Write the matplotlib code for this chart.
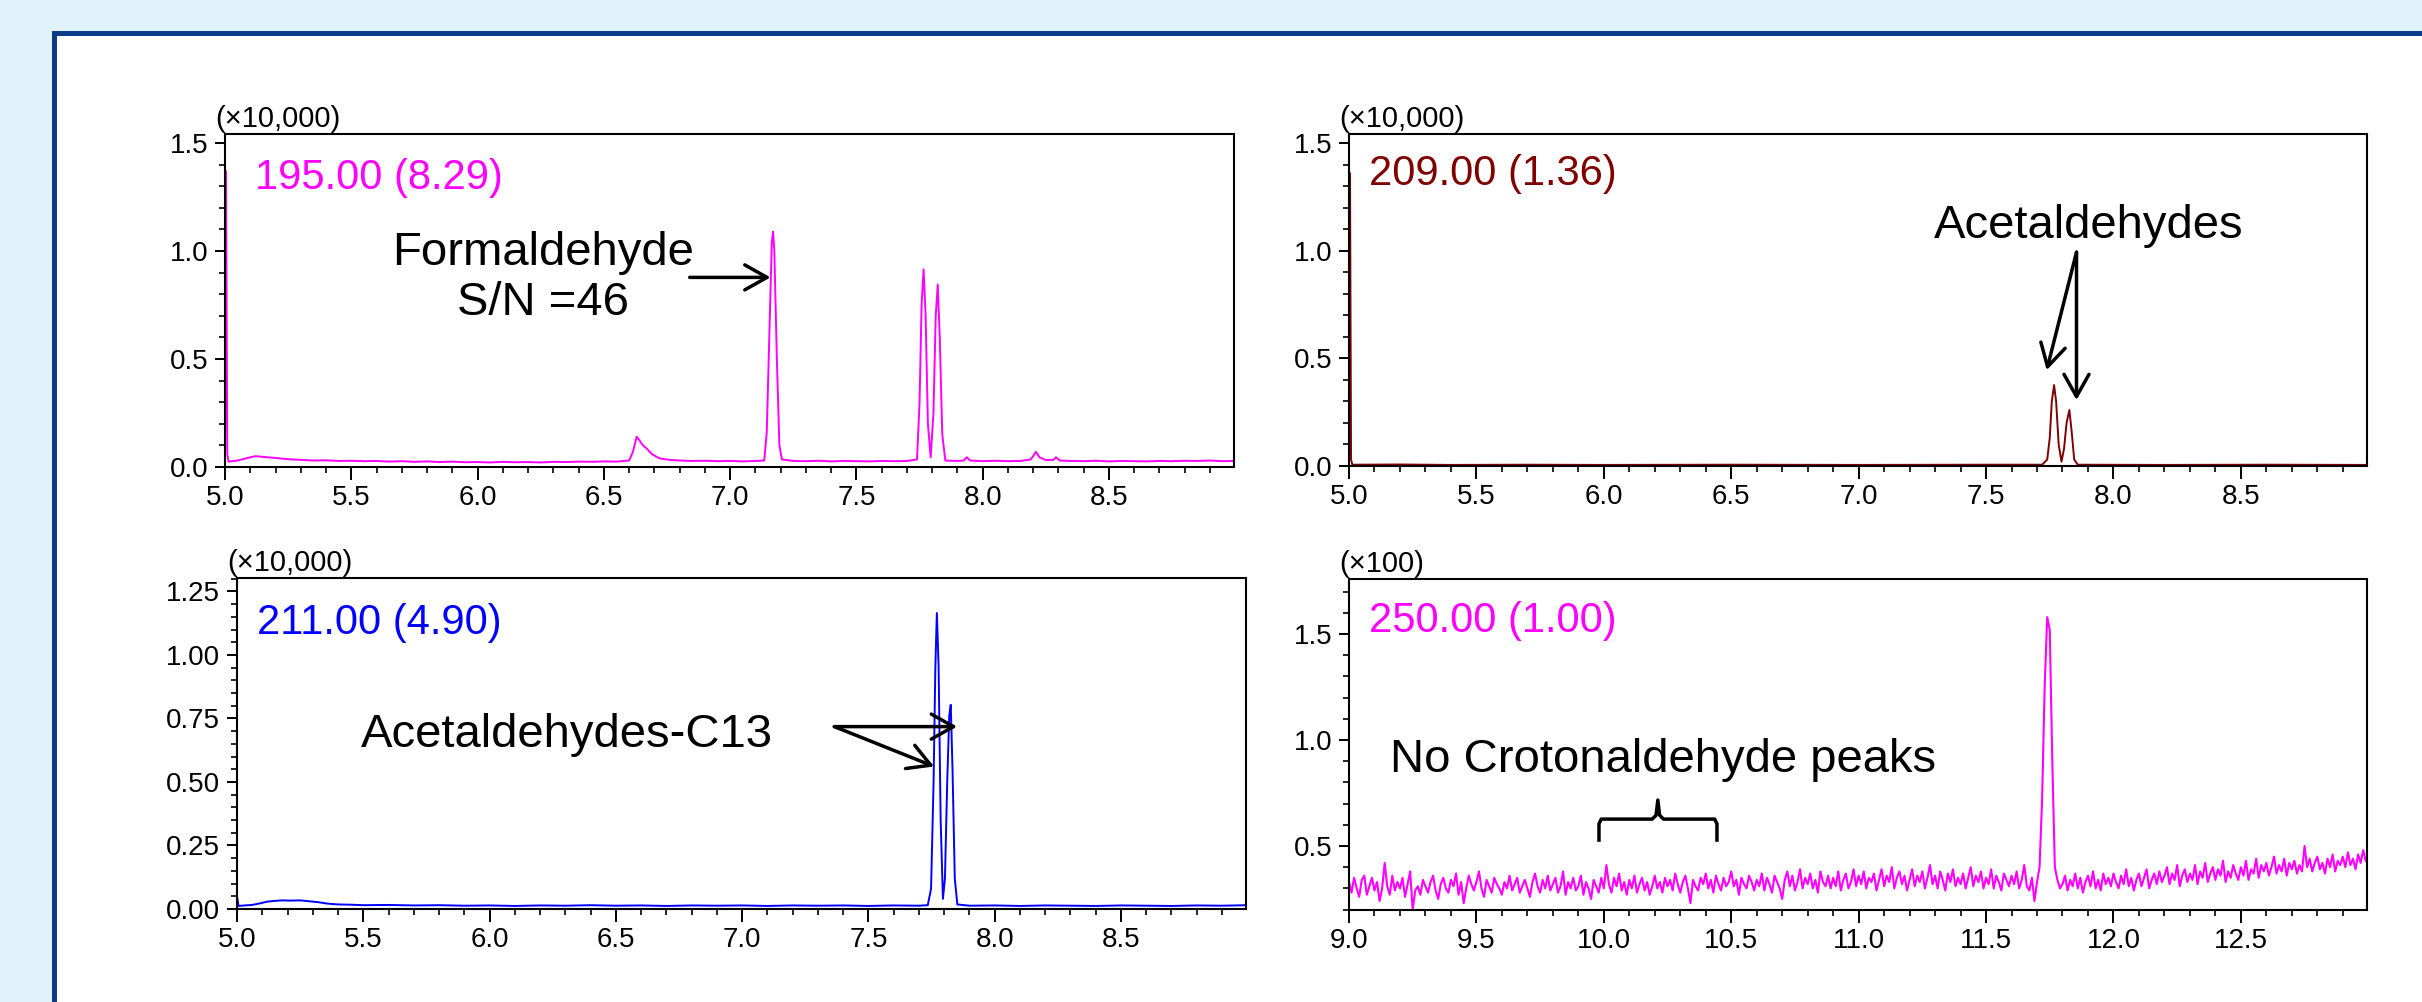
import matplotlib.pyplot as plt
import numpy as np
from matplotlib.patches import Rectangle
from matplotlib.ticker import FixedLocator, FormatStrFormatter

plt.rcParams["font.family"] = ["Liberation Sans", "DejaVu Sans"]

W, H = 2422, 1002

# m/z 195.00 trace, intensity (x10,000)
t195 = [5.0, 5.004, 5.009, 5.014, 5.05, 5.09, 5.12, 5.15, 5.2, 5.25, 5.3, 5.35, 5.4, 5.45, 5.5,
        5.55, 5.6, 5.65, 5.7, 5.75, 5.8, 5.85, 5.9, 5.95, 6.0, 6.05, 6.1, 6.15, 6.2, 6.25,
        6.3, 6.35, 6.4, 6.45, 6.5, 6.55, 6.6, 6.615, 6.63, 6.64, 6.655, 6.67, 6.69, 6.72,
        6.76, 6.8, 6.85, 6.9, 6.95, 7.0, 7.05, 7.1, 7.135, 7.145, 7.155, 7.165, 7.17, 7.175,
        7.185, 7.195, 7.205, 7.25, 7.3, 7.35, 7.4, 7.45, 7.5, 7.55, 7.6, 7.65, 7.7, 7.74,
        7.75, 7.758, 7.766, 7.774, 7.783, 7.794, 7.805, 7.814, 7.822, 7.83, 7.84, 7.852,
        7.9, 7.925, 7.937, 7.95, 8.0, 8.05, 8.1, 8.15, 8.19, 8.2, 8.21, 8.225, 8.25, 8.28,
        8.29, 8.305, 8.35, 8.4, 8.45, 8.5, 8.55, 8.6, 8.65, 8.7, 8.75, 8.8, 8.85, 8.9,
        8.95, 9.0]
i195 = [0.05, 1.37, 0.06, 0.025, 0.03, 0.042, 0.05, 0.047, 0.042, 0.036, 0.033, 0.03, 0.031,
        0.028, 0.029, 0.027, 0.028, 0.025, 0.027, 0.024, 0.026, 0.023, 0.025, 0.022, 0.023,
        0.021, 0.024, 0.022, 0.023, 0.021, 0.024, 0.023, 0.025, 0.024, 0.026, 0.025, 0.03,
        0.07, 0.14, 0.125, 0.1, 0.085, 0.06, 0.04, 0.033, 0.03, 0.028, 0.029, 0.027, 0.028,
        0.026, 0.028, 0.03, 0.16, 0.6, 1.04, 1.09, 1.0, 0.5, 0.1, 0.035, 0.028, 0.027, 0.029,
        0.026, 0.028, 0.027, 0.026, 0.028, 0.027, 0.028, 0.035, 0.3, 0.75, 0.915, 0.7, 0.2,
        0.045, 0.25, 0.7, 0.845, 0.6, 0.15, 0.03, 0.028, 0.03, 0.045, 0.03, 0.027, 0.029,
        0.027, 0.028, 0.035, 0.05, 0.07, 0.045, 0.032, 0.033, 0.045, 0.03, 0.028, 0.027,
        0.029, 0.026, 0.028, 0.027, 0.026, 0.028, 0.027, 0.029, 0.028, 0.03, 0.027, 0.028]

# m/z 209.00 trace, intensity (x10,000)
t209 = [5.0, 5.004, 5.008, 5.013, 5.2, 5.4, 5.7, 6.0, 6.5, 7.0, 7.5, 7.72, 7.74, 7.75, 7.758,
        7.767, 7.775, 7.785, 7.796, 7.806, 7.816, 7.827, 7.836, 7.846, 7.86, 8.2, 8.6, 9.0]
i209 = [0.02, 1.36, 0.03, 0.006, 0.007, 0.005, 0.006, 0.005, 0.006, 0.005, 0.006, 0.006, 0.03,
        0.13, 0.3, 0.376, 0.3, 0.1, 0.02, 0.08, 0.2, 0.26, 0.16, 0.03, 0.006, 0.005, 0.006,
        0.005]

# m/z 211.00 trace, intensity (x10,000)
t211 = [5.0, 5.006, 5.03, 5.06, 5.09, 5.12, 5.15, 5.18, 5.21, 5.25, 5.28, 5.32, 5.36, 5.4,
        5.45, 5.5, 5.6, 5.7, 5.8, 5.9, 6.0, 6.1, 6.2, 6.3, 6.4, 6.5, 6.6, 6.7, 6.8, 6.9,
        7.0, 7.1, 7.2, 7.3, 7.4, 7.5, 7.6, 7.7, 7.735, 7.748, 7.758, 7.765, 7.771, 7.778,
        7.786, 7.795, 7.803, 7.812, 7.82, 7.826, 7.833, 7.842, 7.852, 7.9, 8.0, 8.1, 8.2,
        8.3, 8.4, 8.5, 8.6, 8.7, 8.8, 8.9, 9.0]
i211 = [0.05, 0.012, 0.014, 0.016, 0.022, 0.029, 0.032, 0.034, 0.033, 0.034, 0.031, 0.027,
        0.021, 0.018, 0.017, 0.015, 0.016, 0.014, 0.015, 0.013, 0.014, 0.012, 0.014, 0.013,
        0.015, 0.013, 0.014, 0.012, 0.014, 0.013, 0.014, 0.012, 0.014, 0.013, 0.014, 0.012,
        0.014, 0.013, 0.015, 0.08, 0.5, 0.95, 1.165, 0.95, 0.35, 0.04, 0.12, 0.5, 0.76,
        0.804, 0.55, 0.12, 0.018, 0.013, 0.014, 0.012, 0.014, 0.013, 0.012, 0.014, 0.013,
        0.012, 0.014, 0.013, 0.015]

# m/z 250.00 trace, intensity (x100), one reading every 0.01 min from 9.00 to 13.00
i250 = [
    0.33, 0.28, 0.35, 0.30, 0.26, 0.34, 0.36, 0.27, 0.31, 0.35,
    0.29, 0.33, 0.24, 0.30, 0.42, 0.31, 0.27, 0.36, 0.29, 0.33,
    0.30, 0.35, 0.26, 0.32, 0.38, 0.20, 0.29, 0.31, 0.27, 0.34,
    0.31, 0.28, 0.33, 0.36, 0.29, 0.25, 0.32, 0.35, 0.30, 0.28,
    0.34, 0.31, 0.37, 0.27, 0.33, 0.23, 0.30, 0.36, 0.32, 0.29,
    0.33, 0.38, 0.30, 0.26, 0.34, 0.31, 0.28, 0.35, 0.32, 0.30,
    0.27, 0.33, 0.30, 0.36, 0.29, 0.32, 0.35, 0.28, 0.31, 0.34,
    0.30, 0.26, 0.33, 0.37, 0.31, 0.28, 0.34, 0.30, 0.36, 0.29,
    0.32, 0.35, 0.28, 0.31, 0.38, 0.27, 0.33, 0.30, 0.35, 0.29,
    0.31, 0.36, 0.27, 0.33, 0.30, 0.25, 0.34, 0.31, 0.28, 0.35,
    0.30, 0.41, 0.32, 0.28, 0.35, 0.31, 0.37, 0.29, 0.33, 0.27,
    0.34, 0.30, 0.36, 0.28, 0.32, 0.35, 0.29, 0.33, 0.27, 0.31,
    0.36, 0.30, 0.33, 0.28, 0.35, 0.31, 0.34, 0.29, 0.37, 0.32,
    0.28, 0.33, 0.36, 0.30, 0.23, 0.34, 0.31, 0.29, 0.35, 0.32,
    0.37, 0.30, 0.34, 0.28, 0.36, 0.32, 0.29, 0.35, 0.31, 0.33,
    0.38, 0.31, 0.34, 0.27, 0.35, 0.32, 0.30, 0.36, 0.33, 0.29,
    0.34, 0.31, 0.37, 0.29, 0.35, 0.32, 0.28, 0.36, 0.33, 0.30,
    0.25, 0.34, 0.38, 0.31, 0.36, 0.29, 0.33, 0.39, 0.30, 0.35,
    0.32, 0.37, 0.30, 0.34, 0.28, 0.38, 0.33, 0.31, 0.36, 0.30,
    0.35, 0.31, 0.38, 0.29, 0.34, 0.37, 0.30, 0.33, 0.39, 0.31,
    0.36, 0.32, 0.38, 0.30, 0.35, 0.33, 0.37, 0.29, 0.34, 0.39,
    0.31, 0.36, 0.33, 0.40, 0.30, 0.35, 0.38, 0.32, 0.36, 0.29,
    0.34, 0.39, 0.31, 0.36, 0.33, 0.38, 0.30, 0.35, 0.41, 0.32,
    0.36, 0.30, 0.38, 0.34, 0.29, 0.37, 0.33, 0.39, 0.31, 0.35,
    0.32, 0.37, 0.30, 0.35, 0.40, 0.31, 0.36, 0.33, 0.38, 0.30,
    0.35, 0.32, 0.39, 0.30, 0.36, 0.33, 0.29, 0.37, 0.34, 0.31,
    0.36, 0.32, 0.38, 0.30, 0.34, 0.41, 0.31, 0.29, 0.35, 0.24,
    0.33, 0.40, 0.72, 1.25, 1.58, 1.52, 0.90, 0.40, 0.34, 0.30,
    0.32, 0.36, 0.29, 0.34, 0.31, 0.37, 0.30, 0.35, 0.28, 0.33,
    0.36, 0.31, 0.38, 0.30, 0.34, 0.29, 0.37, 0.32, 0.35, 0.31,
    0.37, 0.33, 0.30, 0.36, 0.32, 0.39, 0.31, 0.35, 0.29, 0.34,
    0.37, 0.31, 0.35, 0.39, 0.30, 0.34, 0.37, 0.32, 0.38, 0.33,
    0.36, 0.40, 0.32, 0.37, 0.34, 0.41, 0.31, 0.36, 0.39, 0.33,
    0.37, 0.34, 0.41, 0.32, 0.38, 0.35, 0.42, 0.33, 0.37, 0.40,
    0.34, 0.39, 0.36, 0.43, 0.33, 0.38, 0.35, 0.41, 0.37, 0.34,
    0.40, 0.36, 0.43, 0.34, 0.39, 0.37, 0.44, 0.35, 0.41, 0.38,
    0.42, 0.36, 0.40, 0.45, 0.37, 0.41, 0.38, 0.44, 0.36, 0.42,
    0.39, 0.43, 0.37, 0.41, 0.38, 0.50, 0.40, 0.44, 0.38, 0.42,
    0.45, 0.39, 0.42, 0.37, 0.44, 0.40, 0.46, 0.38, 0.43, 0.41,
    0.45, 0.40, 0.47, 0.41, 0.44, 0.39, 0.46, 0.42, 0.48, 0.43,
    0.44,
]
assert len(i250) == 401
t250 = np.linspace(9.0, 13.0, len(i250))

xticks_a = [5.0, 5.5, 6.0, 6.5, 7.0, 7.5, 8.0, 8.5]
xticks_b = [9.0, 9.5, 10.0, 10.5, 11.0, 11.5, 12.0, 12.5]
yticks_a = [0.0, 0.5, 1.0, 1.5]
yticks_c = [0.0, 0.25, 0.5, 0.75, 1.0, 1.25]
yticks_d = [0.5, 1.0, 1.5]

magenta = "#FF00FF"
maroon = "#800000"
blue = "#0000FF"


def px_axes(fig, left, top, right, bottom):
    return fig.add_axes([left / W, 1 - bottom / H, (right - left) / W, (bottom - top) / H])


def style(ax, xlim, ylim, xticks, yticks, xminor, yminor, yfmt, scale, label, color, lab_xy):
    ax.set_xlim(*xlim)
    ax.set_ylim(*ylim)
    ax.xaxis.set_major_locator(FixedLocator(xticks))
    ax.xaxis.set_minor_locator(FixedLocator(xminor))
    ax.yaxis.set_major_locator(FixedLocator(yticks))
    ax.yaxis.set_minor_locator(FixedLocator(yminor))
    ax.xaxis.set_major_formatter(FormatStrFormatter("%.1f"))
    ax.yaxis.set_major_formatter(FormatStrFormatter(yfmt))
    ax.tick_params(axis="x", which="major", length=9, width=1.4, labelsize=20, pad=4)
    ax.tick_params(axis="x", which="minor", length=4.5, width=1.2)
    ax.tick_params(axis="y", which="major", length=7, width=1.4, labelsize=20, pad=5)
    ax.tick_params(axis="y", which="minor", length=4, width=1.2)
    for sp in ax.spines.values():
        sp.set_linewidth(1.5)
    ax.annotate(scale, xy=(0, 1), xycoords="axes fraction", xytext=(-7, 1),
                textcoords="offset points", ha="left", va="bottom", fontsize=21)
    ax.text(lab_xy[0], lab_xy[1], label, transform=ax.transAxes, color=color,
            fontsize=30, ha="left", va="center")


def arrow(ax, start, end):
    ax.annotate("", xy=end, xytext=start,
                arrowprops=dict(arrowstyle="->,head_length=0.8,head_width=0.45",
                                lw=2.5, color="black", shrinkA=0, shrinkB=0,
                                mutation_scale=20))


fig = plt.figure(figsize=(W / 100, H / 100), dpi=100)
fig.patch.set_facecolor("#E0F2FC")
fig.add_artist(Rectangle((52 / W, 0), 1, (H - 31) / H, transform=fig.transFigure,
                         facecolor="#0A3C88", edgecolor="none", zorder=-2))
fig.add_artist(Rectangle((57 / W, 0), 1, (H - 36) / H, transform=fig.transFigure,
                         facecolor="white", edgecolor="none", zorder=-1))

minor_a = [round(5.0 + 0.1 * k, 1) for k in range(40) if k % 5]
minor_b = [round(9.0 + 0.1 * k, 1) for k in range(40) if k % 5]

# top left: m/z 195
ax1 = px_axes(fig, 225, 134, 1234, 467)
ax1.plot(t195, i195, color=magenta, lw=1.4)
style(ax1, (5.0, 8.995), (0, 1.542), xticks_a, yticks_a, minor_a,
      [round(0.1 * k, 1) for k in range(16) if k % 5], "%.1f",
      "(×10,000)", "195.00 (8.29)", magenta, (0.03, 0.868))
ax1.text(6.26, 0.875, "Formaldehyde\nS/N =46", fontsize=34, ha="center", va="center",
         multialignment="center", linespacing=1.15)
arrow(ax1, (6.84, 0.878), (7.16, 0.878))

# top right: m/z 209
ax2 = px_axes(fig, 1349, 134, 2367, 466)
ax2.plot(t209, i209, color=maroon, lw=1.4)
style(ax2, (5.0, 8.995), (0, 1.542), xticks_a, yticks_a, minor_a,
      [round(0.1 * k, 1) for k in range(16) if k % 5], "%.1f",
      "(×10,000)", "209.00 (1.36)", maroon, (0.02, 0.88))
ax2.text(7.903, 1.115, "Acetaldehydes", fontsize=34, ha="center", va="center")
arrow(ax2, (7.855, 0.993), (7.738, 0.445))
arrow(ax2, (7.855, 0.993), (7.855, 0.306))

# bottom left: m/z 211
ax3 = px_axes(fig, 237, 578, 1246, 909)
ax3.plot(t211, i211, color=blue, lw=1.4)
style(ax3, (5.0, 8.995), (0, 1.303), xticks_a, yticks_c, minor_a,
      [round(0.05 * k, 2) for k in range(27) if k % 5], "%.2f",
      "(×10,000)", "211.00 (4.90)", blue, (0.02, 0.864))
ax3.text(6.307, 0.686, "Acetaldehydes-C13", fontsize=34, ha="center", va="center")
arrow(ax3, (7.365, 0.718), (7.851, 0.718))
arrow(ax3, (7.365, 0.718), (7.760, 0.561))

# bottom right: m/z 250
ax4 = px_axes(fig, 1349, 579, 2367, 910)
ax4.plot(t250, i250, color=magenta, lw=1.5)
style(ax4, (9.0, 12.995), (0.198, 1.76), xticks_b, yticks_d, minor_b,
      [round(0.2 + 0.1 * k, 1) for k in range(16) if (k + 2) % 5], "%.1f",
      "(×100)", "250.00 (1.00)", magenta, (0.02, 0.873))
ax4.text(10.234, 0.906, "No Crotonaldehyde peaks", fontsize=34, ha="center", va="center")
brace_x = [9.981, 9.981, 9.99, 10.19, 10.205, 10.212, 10.219, 10.234, 10.435, 10.444, 10.444]
brace_y = [0.528, 0.605, 0.627, 0.627, 0.645, 0.717, 0.645, 0.627, 0.627, 0.605, 0.528]
ax4.plot(brace_x, brace_y, color="black", lw=2.5, solid_joinstyle="round")

fig.savefig("out.png", dpi=100, facecolor=fig.get_facecolor())
